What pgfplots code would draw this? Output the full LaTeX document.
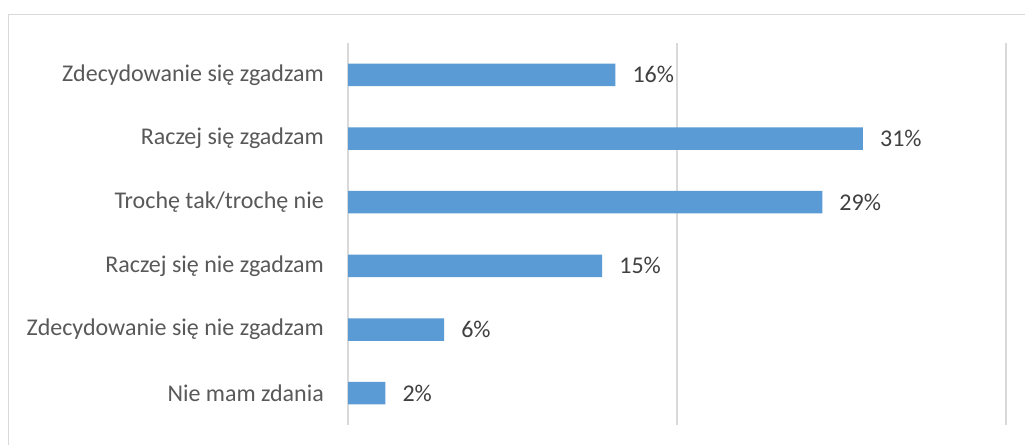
\documentclass[border=0pt]{standalone}
\usepackage{fontspec}
\setmainfont{Carlito}
\usepackage{pgfplots}
\pgfplotsset{compat=1.18}
\definecolor{barblue}{HTML}{5B9BD5}
\definecolor{gridgray}{HTML}{D9D9D9}
\definecolor{txtgray}{HTML}{595959}
\definecolor{lblgray}{HTML}{404040}
\begin{document}
\begin{tikzpicture}[x=1pt,y=1pt]
\useasboundingbox (0,0) rectangle (1025,-445);
\fill[white] (0,0) rectangle (1025,-445);
\draw[gridgray,line width=1pt] (8,-445) -- (8,-14) -- (1025,-14);
\begin{axis}[
  at={(348pt,-425pt)}, anchor=south west,
  scale only axis, width=658pt, height=382pt,
  xmin=0, xmax=40, ymin=-0.5, ymax=5.5,
  xbar, bar width=22.5pt,
  axis line style={draw=none},
  xtick={0,20,40}, xticklabels={},
  xmajorgrids, grid style={gridgray,line width=1.2pt},
  major tick length=0pt,
  ytick={0,1,2,3,4,5},
  yticklabels={Nie mam zdania,Zdecydowanie się nie zgadzam,Raczej się nie zgadzam,Trochę tak/trochę nie,Raczej się zgadzam,Zdecydowanie się zgadzam},
  yticklabel style={font=\fontsize{24}{28}\selectfont, text=txtgray, inner sep=0pt, xshift=-24pt},
  /pgf/number format/assume math mode=true,
  nodes near coords={\pgfmathprintnumber[fixed,precision=0]{\pgfplotspointmeta}\%},
  point meta=x,
  nodes near coords style={font=\fontsize{24}{28}\selectfont, text=lblgray, anchor=west, inner sep=0pt, xshift=17pt},
]
\addplot[fill=barblue, draw=none] coordinates {(2.27,0) (5.84,1) (15.45,2) (28.83,3) (31.3,4) (16.25,5)};
\end{axis}
\end{tikzpicture}
\end{document}
